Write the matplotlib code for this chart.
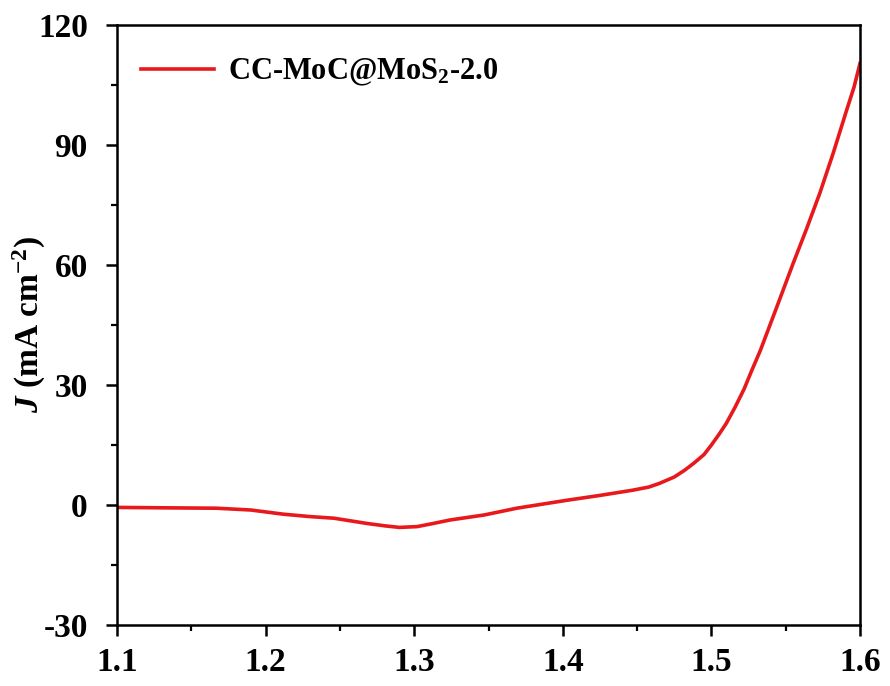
import numpy as np
import matplotlib
matplotlib.use("Agg")
import matplotlib.pyplot as plt
from matplotlib.ticker import MultipleLocator

# LSV curve
potential = [1.10, 1.13, 1.167, 1.19, 1.212, 1.23, 1.246, 1.268, 1.28, 1.29,
             1.302, 1.313, 1.324, 1.347, 1.369, 1.403, 1.425, 1.447, 1.458,
             1.465, 1.475, 1.482, 1.488, 1.495, 1.50, 1.505, 1.51, 1.516,
             1.522, 1.527, 1.533, 1.544, 1.555, 1.564, 1.573, 1.582, 1.591,
             1.596, 1.6]
current = [-0.6, -0.7, -0.8, -1.25, -2.3, -2.9, -3.3, -4.6, -5.2, -5.6,
           -5.4, -4.6, -3.75, -2.5, -0.8, 1.2, 2.4, 3.7, 4.5,
           5.4, 7.0, 8.7, 10.4, 12.6, 15.0, 17.6, 20.4, 24.5,
           29.0, 33.5, 38.7, 49.5, 60.4, 69.0, 78.0, 88.0, 98.7,
           104.5, 110.4]
label = r"CC-MoC@MoS$_\mathbf{2}$-2.0"

plt.rcParams["font.family"] = ["Liberation Serif", "DejaVu Serif"]
plt.rcParams["font.weight"] = "bold"
plt.rcParams["axes.unicode_minus"] = False
plt.rcParams["mathtext.fontset"] = "custom"
plt.rcParams["mathtext.rm"] = "Liberation Serif:bold"
plt.rcParams["mathtext.bf"] = "Liberation Serif:bold"
plt.rcParams["mathtext.it"] = "Liberation Serif:bold:italic"

fig = plt.figure(figsize=(8.9, 6.86), dpi=100)
ax = fig.add_axes([0.1315, 0.0889, 0.8348, 0.8747])

ax.plot(potential, current, color="#e8191c", lw=2.6, label=label,
        solid_joinstyle="round")

ax.set_xlim(1.1, 1.6)
ax.set_ylim(-30, 120)
ax.xaxis.set_major_locator(MultipleLocator(0.1))
ax.xaxis.set_minor_locator(MultipleLocator(0.05))
ax.yaxis.set_major_locator(MultipleLocator(30))
ax.yaxis.set_minor_locator(MultipleLocator(15))

for s in ax.spines.values():
    s.set_linewidth(1.8)
ax.tick_params(which="major", direction="out", length=8, width=1.8,
               labelsize=24, pad=8, top=False, right=False)
ax.tick_params(which="minor", direction="out", length=4, width=1.6,
               top=False, right=False)
ax.tick_params(axis="y", which="major", pad=13)
for t in ax.get_xticklabels() + ax.get_yticklabels():
    t.set_fontweight("bold")

ax.set_ylabel(r"$J$ (mA cm$^{-2}$)", fontsize=24, fontweight="bold")
ax.yaxis.set_label_coords(-0.093, 0.5)

ax.legend(loc="upper left", bbox_to_anchor=(0.016, 0.967), frameon=False,
          handlelength=2.4, handletextpad=0.45, borderaxespad=0,
          prop={"weight": "bold", "size": 22})

fig.savefig("out.png", dpi=100)
